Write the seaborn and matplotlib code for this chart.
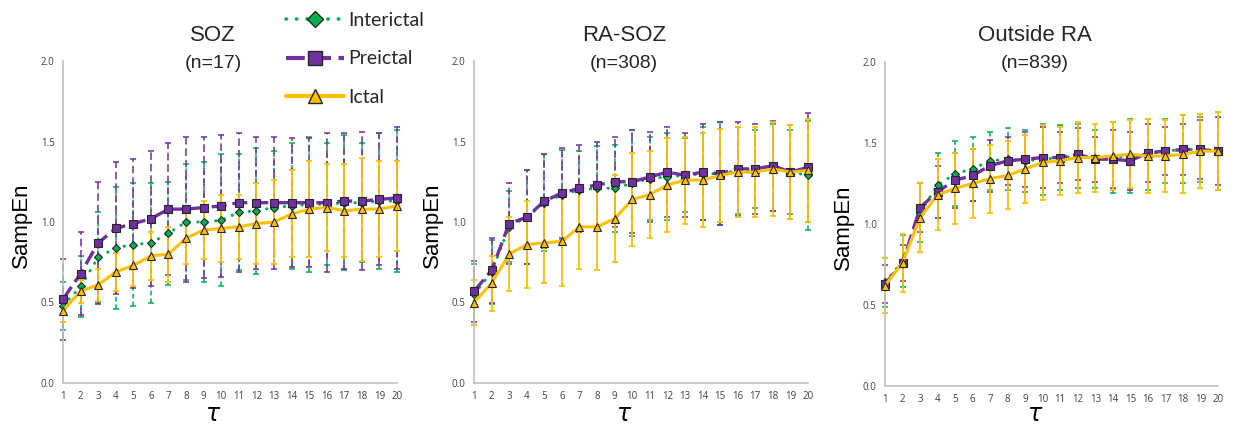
import matplotlib
matplotlib.use("Agg")
import matplotlib.pyplot as plt
from matplotlib.lines import Line2D
import pandas as pd
import seaborn as sns

# Data (mean SampEn and error bar half-width per tau)
tau = list(range(1, 21))
panel_titles = ["SOZ", "RA-SOZ", "Outside RA"]
panel_counts = ["(n=17)", "(n=308)", "(n=839)"]
phases = ["Interictal", "Preictal", "Ictal"]

soz_inter = [0.48, 0.60, 0.78, 0.84, 0.86, 0.87, 0.93, 1.00, 1.00, 1.01, 1.06, 1.07, 1.09, 1.10, 1.11, 1.11, 1.12, 1.12, 1.13, 1.13]
soz_inter_sd = [0.15, 0.19, 0.28, 0.38, 0.38, 0.37, 0.32, 0.36, 0.37, 0.41, 0.36, 0.39, 0.35, 0.39, 0.42, 0.38, 0.42, 0.37, 0.42, 0.44]
soz_pre = [0.52, 0.68, 0.87, 0.96, 0.99, 1.02, 1.08, 1.08, 1.09, 1.10, 1.12, 1.12, 1.12, 1.12, 1.12, 1.12, 1.13, 1.13, 1.14, 1.15]
soz_pre_sd = [0.25, 0.26, 0.38, 0.41, 0.40, 0.42, 0.41, 0.45, 0.44, 0.44, 0.43, 0.41, 0.41, 0.40, 0.40, 0.43, 0.42, 0.43, 0.41, 0.44]
soz_ict = [0.45, 0.57, 0.61, 0.69, 0.73, 0.79, 0.80, 0.90, 0.95, 0.96, 0.97, 0.99, 1.00, 1.05, 1.08, 1.09, 1.07, 1.08, 1.08, 1.10]
soz_ict_sd = [0.07, 0.07, 0.10, 0.12, 0.13, 0.15, 0.17, 0.16, 0.18, 0.21, 0.20, 0.25, 0.26, 0.27, 0.30, 0.27, 0.29, 0.32, 0.30, 0.28]

rasoz_inter = [0.55, 0.69, 0.97, 1.03, 1.12, 1.17, 1.20, 1.21, 1.21, 1.24, 1.27, 1.28, 1.29, 1.30, 1.30, 1.32, 1.33, 1.34, 1.31, 1.29]
rasoz_inter_sd = [0.19, 0.20, 0.22, 0.29, 0.30, 0.28, 0.24, 0.26, 0.27, 0.33, 0.26, 0.27, 0.23, 0.29, 0.32, 0.27, 0.24, 0.27, 0.26, 0.34]
rasoz_pre = [0.57, 0.70, 0.99, 1.03, 1.13, 1.18, 1.21, 1.23, 1.25, 1.25, 1.28, 1.31, 1.29, 1.31, 1.30, 1.33, 1.33, 1.35, 1.31, 1.34]
rasoz_pre_sd = [0.19, 0.20, 0.25, 0.29, 0.29, 0.28, 0.27, 0.27, 0.28, 0.32, 0.28, 0.28, 0.26, 0.30, 0.32, 0.29, 0.28, 0.28, 0.29, 0.34]
rasoz_ict = [0.50, 0.62, 0.80, 0.86, 0.87, 0.88, 0.97, 0.97, 1.02, 1.14, 1.17, 1.23, 1.26, 1.26, 1.29, 1.31, 1.31, 1.33, 1.31, 1.32]
rasoz_ict_sd = [0.14, 0.17, 0.23, 0.27, 0.25, 0.28, 0.26, 0.27, 0.27, 0.29, 0.27, 0.29, 0.27, 0.29, 0.29, 0.28, 0.28, 0.29, 0.29, 0.32]

out_inter = [0.64, 0.77, 1.07, 1.24, 1.31, 1.34, 1.39, 1.40, 1.39, 1.40, 1.41, 1.42, 1.40, 1.41, 1.42, 1.43, 1.45, 1.46, 1.46, 1.45]
out_inter_sd = [0.15, 0.16, 0.18, 0.20, 0.20, 0.20, 0.18, 0.19, 0.19, 0.22, 0.20, 0.20, 0.18, 0.22, 0.23, 0.22, 0.20, 0.21, 0.20, 0.24]
out_pre = [0.63, 0.76, 1.10, 1.20, 1.27, 1.30, 1.36, 1.39, 1.40, 1.41, 1.41, 1.43, 1.40, 1.40, 1.39, 1.44, 1.45, 1.46, 1.46, 1.45]
out_pre_sd = [0.12, 0.11, 0.15, 0.16, 0.17, 0.16, 0.16, 0.15, 0.17, 0.19, 0.16, 0.16, 0.14, 0.18, 0.18, 0.18, 0.15, 0.16, 0.18, 0.21]
out_ict = [0.62, 0.76, 1.04, 1.18, 1.22, 1.25, 1.28, 1.30, 1.34, 1.38, 1.39, 1.41, 1.41, 1.42, 1.43, 1.42, 1.42, 1.43, 1.45, 1.45]
out_ict_sd = [0.17, 0.18, 0.21, 0.22, 0.22, 0.21, 0.21, 0.21, 0.21, 0.23, 0.21, 0.22, 0.21, 0.21, 0.21, 0.23, 0.22, 0.24, 0.23, 0.24]

means = {
    "SOZ": [soz_inter, soz_pre, soz_ict],
    "RA-SOZ": [rasoz_inter, rasoz_pre, rasoz_ict],
    "Outside RA": [out_inter, out_pre, out_ict],
}
sds = {
    "SOZ": [soz_inter_sd, soz_pre_sd, soz_ict_sd],
    "RA-SOZ": [rasoz_inter_sd, rasoz_pre_sd, rasoz_ict_sd],
    "Outside RA": [out_inter_sd, out_pre_sd, out_ict_sd],
}

rows = []
for panel in panel_titles:
    for phase, m, s in zip(phases, means[panel], sds[panel]):
        for t, v, e in zip(tau, m, s):
            rows.append({"panel": panel, "phase": phase, "tau": t, "SampEn": v, "sd": e})
df = pd.DataFrame(rows)

# styles
colors = {"Interictal": "#00B050", "Preictal": "#7030A0", "Ictal": "#FFC000"}
markers = {"Interictal": "D", "Preictal": "s", "Ictal": "^"}
msize = {"Interictal": 4.3, "Preictal": 5.2, "Ictal": 5.8}
line_ls = {"Interictal": (0, (0.1, 2.8)), "Preictal": (0, (4.5, 1.8)), "Ictal": "-"}
line_lw = {"Interictal": 2.2, "Preictal": 2.4, "Ictal": 2.2}
capstyle = {"Interictal": "round", "Preictal": "butt", "Ictal": "butt"}
bar_ls = {"Interictal": (0, (3, 2)), "Preictal": (0, (5, 2.5)), "Ictal": "-"}
bar_lw = {"Interictal": 1.1, "Preictal": 1.1, "Ictal": 1.3}
zorders = {"Interictal": 3, "Preictal": 4, "Ictal": 5}
edge = "#262626"
spine_col = "#BFBFBF"

sns.set_style("white")
plt.rcParams["font.family"] = ["Liberation Sans", "DejaVu Sans"]

fig = plt.figure(figsize=(12.33, 4.24), dpi=100)
W, H = 1233, 424
boxes = [(63, 397, 61, 383), (474, 808, 61, 383), (885, 1218, 62, 386)]

for panel, count, (l, r, t, b) in zip(panel_titles, panel_counts, boxes):
    ax = fig.add_axes([l / W, (H - b) / H, (r - l) / W, (b - t) / H])
    sub = df[df["panel"] == panel]
    for phase in phases:
        d = sub[sub["phase"] == phase]
        eb = ax.errorbar(d["tau"], d["SampEn"], yerr=d["sd"], fmt="none",
                         ecolor=colors[phase], elinewidth=bar_lw[phase], capsize=2.5,
                         capthick=bar_lw[phase], zorder=zorders[phase] - 2.5, clip_on=False)
        eb[2][0].set_linestyle(bar_ls[phase])
    for phase in phases:
        d = sub[sub["phase"] == phase]
        sns.lineplot(data=d, x="tau", y="SampEn", ax=ax, color=colors[phase],
                     marker=markers[phase], markersize=msize[phase],
                     markerfacecolor=colors[phase], markeredgecolor=edge,
                     markeredgewidth=0.8, linestyle=line_ls[phase],
                     linewidth=line_lw[phase], dash_capstyle=capstyle[phase],
                     errorbar=None, zorder=zorders[phase], clip_on=False)

    ax.set_xlim(1, 20)
    ax.set_ylim(0, 2)
    ax.set_xticks(tau)
    ax.set_yticks([0, 0.5, 1.0, 1.5, 2.0])
    ax.set_yticklabels(["0.0", "0.5", "1.0", "1.5", "2.0"])
    for s in ["top", "right"]:
        ax.spines[s].set_visible(False)
    for s in ["left", "bottom"]:
        ax.spines[s].set_color(spine_col)
        ax.spines[s].set_linewidth(1.2)
    ax.tick_params(axis="both", direction="out", length=3, width=1,
                   color=spine_col, labelcolor="#404040", labelsize=7, pad=3)
    for lab in ax.get_xticklabels() + ax.get_yticklabels():
        lab.set_family(["Open Sans", "DejaVu Sans"])

    ax.set_ylabel("SampEn", fontsize=16, color="black")
    ax.yaxis.set_label_coords(-0.093, 0.49)
    ax.set_xlabel(r"$\tau$", fontsize=17, color="black", va="baseline")
    ax.xaxis.set_label_coords(0.45, -(421 - b) / (b - t))

    cx = (l + 0.45 * (r - l)) / W
    fig.text(cx, 1 - 41 / H, panel, ha="center", va="baseline", fontsize=16)
    fig.text(cx, 1 - 68 / H, count, ha="center", va="baseline", fontsize=14)

handles = [Line2D([], [], color=colors[p], marker=markers[p], markersize=m,
                  markerfacecolor=colors[p], markeredgecolor=edge, markeredgewidth=1,
                  linestyle=line_ls[p], linewidth=lw, dash_capstyle=capstyle[p])
           for p, m, lw in zip(phases, [8.5, 9.5, 10], [2.6, 3, 3])]
fig.legend(handles, phases, loc="upper left", bbox_to_anchor=(286 / W, 1 - 12 / H),
           frameon=False, handlelength=3.0, handletextpad=0.2, labelspacing=1.1,
           borderpad=0, borderaxespad=0, prop={"family": ["Lato", "DejaVu Sans"], "size": 14})

fig.savefig("out.png", dpi=100)
